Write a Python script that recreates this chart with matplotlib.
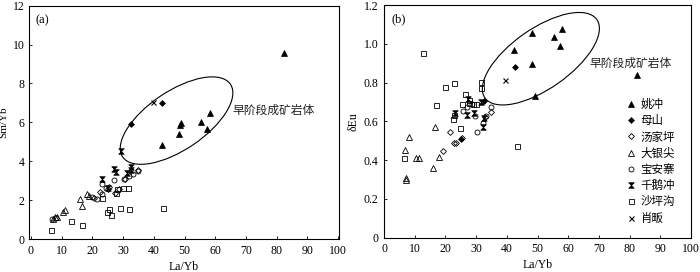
import matplotlib
matplotlib.use("Agg")
import matplotlib.pyplot as plt
import numpy as np
from matplotlib.patches import Ellipse
from matplotlib.path import Path
from matplotlib.transforms import ScaledTranslation

plt.rcParams['font.family'] = ['Liberation Serif', 'Noto Sans CJK SC']
plt.rcParams['axes.unicode_minus'] = False

# ---------------- data: panel (a) La/Yb vs Sm/Yb ----------------
a_yaochong_x = [42.8, 48.2, 48.5, 49.0, 55.3, 57.2, 58.2, 82.4]
a_yaochong_y = [4.83, 5.40, 5.86, 5.98, 6.02, 5.67, 6.50, 9.58]
a_mushan_x = [32.5, 42.7]
a_mushan_y = [5.91, 7.01]
a_tangjiaping_x = [20.5, 22.5, 25.0, 27.5, 28.6, 30.5, 35.0, 25.5]
a_tangjiaping_y = [2.10, 2.40, 2.55, 2.35, 2.55, 3.10, 3.55, 2.65]
a_dayinjian_x = [7.2, 7.8, 8.5, 10.5, 11.2, 16.1, 16.7, 18.1, 19.0]
a_dayinjian_y = [1.05, 1.12, 1.15, 1.40, 1.50, 2.06, 1.71, 2.31, 2.20]
a_baoanzhai_x = [7.0, 8.0, 20.0, 21.4, 23.0, 24.5, 26.9, 30.3, 33.1, 35.0, 23.0, 32.0]
a_baoanzhai_y = [1.02, 1.10, 2.14, 2.04, 2.81, 2.60, 3.02, 3.10, 3.34, 3.50, 2.30, 3.25]
a_qianechong_x = [29.3, 27.0, 27.7, 32.5, 32.5, 31.4, 23.0, 25.0]
a_qianechong_y = [4.53, 3.60, 3.43, 3.72, 3.55, 3.38, 3.09, 2.60]
a_shapinggou_x = [6.5, 12.9, 16.6, 24.9, 25.4, 26.2, 29.0, 31.8, 43.1, 27.7, 27.9, 30.1, 31.6, 23.0]
a_shapinggou_y = [0.46, 0.94, 0.72, 1.40, 1.52, 1.25, 1.59, 1.54, 1.58, 2.35, 2.59, 2.62, 2.62, 2.10]
a_xiaofan_x = [39.7]
a_xiaofan_y = [7.03]

# ---------------- data: panel (b) La/Yb vs dEu ----------------
b_yaochong_x = [42.3, 48.3, 55.3, 58.1, 57.2, 48.3, 49.1, 82.4]
b_yaochong_y = [0.968, 1.054, 1.037, 1.078, 0.988, 0.894, 0.731, 0.840]
b_mushan_x = [42.8, 32.5, 25.1]
b_mushan_y = [0.878, 0.706, 0.509]
b_tangjiaping_x = [21.4, 19.1, 22.8, 23.6, 34.7, 33.0, 25.3]
b_tangjiaping_y = [0.543, 0.449, 0.490, 0.490, 0.648, 0.624, 0.512]
b_dayinjian_x = [8.0, 6.9, 7.3, 7.1, 10.5, 11.3, 16.6, 17.9, 16.1]
b_dayinjian_y = [0.517, 0.450, 0.308, 0.297, 0.412, 0.412, 0.571, 0.414, 0.361]
b_baoanzhai_x = [25.7, 27.0, 29.5, 30.3, 33.2, 35.0, 32.2, 28.8]
b_baoanzhai_y = [0.655, 0.672, 0.629, 0.546, 0.627, 0.672, 0.593, 0.689]
b_qianechong_x = [27.5, 26.9, 23.1, 29.3, 31.5, 32.4, 32.6]
b_qianechong_y = [0.717, 0.632, 0.644, 0.644, 0.700, 0.569, 0.615]
b_shapinggou_x = [12.8, 6.5, 16.8, 19.9, 22.9, 26.3, 31.7, 31.7, 27.6, 27.6, 24.8, 43.2, 22.5, 22.9, 25.3, 29.0, 29.9]
b_shapinggou_y = [0.954, 0.411, 0.686, 0.777, 0.796, 0.741, 0.802, 0.772, 0.710, 0.696, 0.567, 0.472, 0.613, 0.632, 0.687, 0.687, 0.687]
b_xiaofan_x = [39.4]
b_xiaofan_y = [0.814]

legend_labels = ['姚冲', '母山', '汤家坪', '大银尖', '宝安寨', '千鹅冲', '沙坪沟', '肖畈']
ellipse_label = '早阶段成矿岩体'

# hourglass marker
hourglass = Path([(-1, 1), (1, 1), (-1, -1), (1, -1), (-1, 1)],
                 [Path.MOVETO, Path.LINETO, Path.LINETO, Path.LINETO, Path.CLOSEPOLY])

styles = [
    dict(marker='^', ms=4.2, mfc='black', mec='black', mew=0.5),
    dict(marker='D', ms=3.0, mfc='black', mec='black', mew=0.5),
    dict(marker='D', ms=3.0, mfc='none', mec='black', mew=0.6),
    dict(marker='^', ms=4.0, mfc='none', mec='black', mew=0.6),
    dict(marker='o', ms=3.6, mfc='none', mec='black', mew=0.6),
    dict(marker=hourglass, ms=4.0, mfc='black', mec='black', mew=0.5),
    dict(marker='s', ms=3.6, mfc='none', mec='black', mew=0.6),
    dict(marker='x', ms=3.6, mfc='black', mec='black', mew=0.8),
]

fig = plt.figure(figsize=(7.0, 2.72), dpi=100)
ax1 = fig.add_axes([29/700, 33/272, 310/700, 233.3/272])
ax2 = fig.add_axes([384/700, 34.3/272, 307/700, 232.7/272])

a_series = [(a_yaochong_x, a_yaochong_y), (a_mushan_x, a_mushan_y),
            (a_tangjiaping_x, a_tangjiaping_y), (a_dayinjian_x, a_dayinjian_y),
            (a_baoanzhai_x, a_baoanzhai_y), (a_qianechong_x, a_qianechong_y),
            (a_shapinggou_x, a_shapinggou_y), (a_xiaofan_x, a_xiaofan_y)]
b_series = [(b_yaochong_x, b_yaochong_y), (b_mushan_x, b_mushan_y),
            (b_tangjiaping_x, b_tangjiaping_y), (b_dayinjian_x, b_dayinjian_y),
            (b_baoanzhai_x, b_baoanzhai_y), (b_qianechong_x, b_qianechong_y),
            (b_shapinggou_x, b_shapinggou_y), (b_xiaofan_x, b_xiaofan_y)]

for (x, y), st, lab in zip(a_series, styles, legend_labels):
    ax1.plot(x, y, linestyle='none', label=lab, **st)
for (x, y), st, lab in zip(b_series, styles, legend_labels):
    ax2.plot(x, y, linestyle='none', label=lab, **st)

fs = 8.5
for ax in (ax1, ax2):
    ax.tick_params(direction='in', length=2.5, width=0.6, labelsize=fs, pad=4)
    for s in ax.spines.values():
        s.set_linewidth(0.8)
    ax.set_xticks(np.arange(0, 101, 10))
    ax.set_xlabel('La/Yb', fontsize=fs, labelpad=3)

ax1.set_xlim(-0.65, 100.3)
ax1.set_ylim(0, 12)
ax1.set_yticks(np.arange(0, 13, 2))
ax1.tick_params(axis='y', pad=3)
ax1.set_ylabel('Sm/Yb', fontsize=8)
ax1.yaxis.set_label_coords(-0.068, 0.5)
ax1.text(0.02, 0.965, '(a)', transform=ax1.transAxes, fontsize=fs + 0.5, va='top', ha='left')

ax2.set_xlim(0, 100)
ax2.set_ylim(0, 1.2)
ax2.set_yticks(np.arange(0, 1.21, 0.2))
ax2.set_yticklabels(['0', '0.2', '0.4', '0.6', '0.8', '1.0', '1.2'])
ax2.set_ylabel('δEu', fontsize=fs, labelpad=3)
ax2.text(0.025, 0.965, '(b)', transform=ax2.transAxes, fontsize=fs + 0.5, va='top', ha='left')

# ellipses (center in data coords, size in inches)
def add_ellipse(ax, cx, cy, w_in, h_in, ang):
    tr = fig.dpi_scale_trans + ScaledTranslation(cx, cy, ax.transData)
    ax.add_patch(Ellipse((0, 0), w_in, h_in, angle=ang, fill=False,
                         edgecolor='black', linewidth=0.8, transform=tr))

add_ellipse(ax1, 47.4, 6.09, 1.30, 0.586, 34)
add_ellipse(ax2, 51.1, 0.923, 1.366, 0.60, 35)

ax1.text(65.5, 6.63, ellipse_label, fontsize=8.5, va='center', ha='left',
         family=['Noto Sans CJK SC'], color='#222222')
ax2.text(67.0, 0.899, ellipse_label, fontsize=8.5, va='center', ha='left',
         family=['Noto Sans CJK SC'], color='#222222')

leg = ax2.legend(loc='upper left', bbox_to_anchor=(0.77, 0.625), frameon=False,
                 prop={'family': 'Noto Sans CJK SC', 'size': 8.3},
                 handlelength=0.8, handletextpad=0.45, labelspacing=0.28,
                 borderpad=0.0, numpoints=1)

fig.savefig('out.png', dpi=100)
